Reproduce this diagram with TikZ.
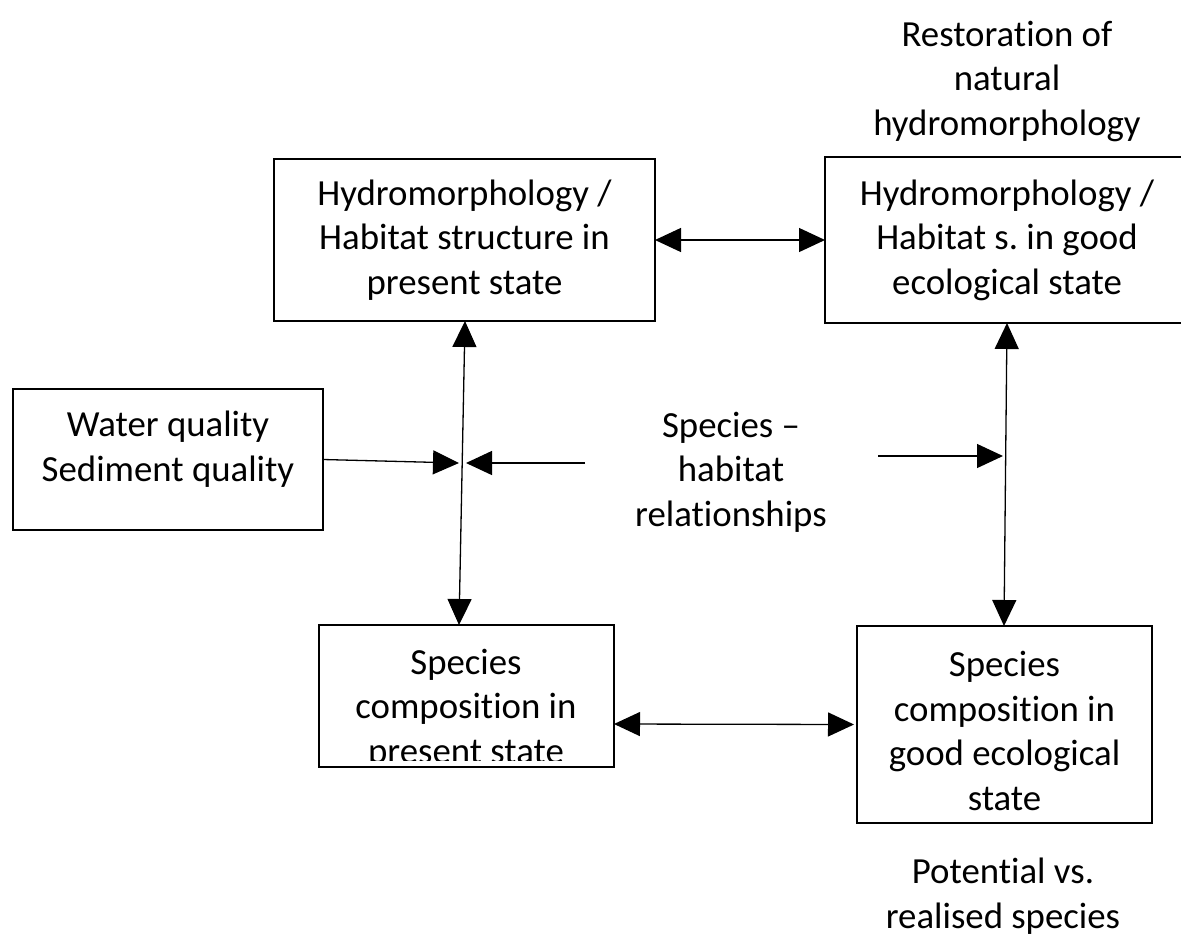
\documentclass[tikz,border=0pt]{standalone}
\usepackage{fontspec}
\setmainfont{Carlito}[Ligatures={NoCommon,NoContextual},RawFeature={-clig;-dlig}]
\usetikzlibrary{arrows.meta}
\begin{document}
\frenchspacing
\begin{tikzpicture}[x=1pt,y=-1pt,
  every node/.style={font=\fontsize{36.8}{44.5}\selectfont, inner sep=0pt, outer sep=0pt},
  box/.style={draw, line width=1.8pt, rectangle},
  txt/.style={align=center},
  conn/.style={line width=1.3pt, {Triangle[length=26pt,width=24pt]}-{Triangle[length=26pt,width=24pt]}},
  oneway/.style={line width=1.3pt, -{Triangle[length=26pt,width=24pt]}}]
\useasboundingbox (0,0) rectangle (1181,935);
% boxes
\node[box, txt, minimum width=381, minimum height=162] (hp) at (464.5,240)
  {Hydromorphology /\\Habitat structure in\\present state};
\node[box, txt, minimum width=364, minimum height=166] (hg) at (1007,240)
  {Hydromorphology /\\Habitat s. in good\\ecological state};
\node[box, minimum width=310, minimum height=141] (wq) at (168,459.5) {};
\node[txt] (wqtext) at (168,449) {Water quality\\Sediment quality};
\node[box, minimum width=295, minimum height=142] (sp) at (466.5,696) {};
\begin{scope}
  \clip ([yshift=7pt]sp.south west) rectangle (sp.north east);
  \node[txt] (sptext) at (466,709) {Species\\composition in\\present state};
\end{scope}
\node[box, minimum width=295, minimum height=197] (sg) at (1004.5,724.5) {};
\node[txt] (sgtext) at (1004.5,731) {Species\\composition in\\good ecological\\state};
% free texts
\node[txt] (rest) at (1007,81) {Restoration of\\natural\\hydromorphology};
\node[txt] (shr) at (731,472) {Species –\\habitat\\relationships};
\node[txt] (pot) at (1003,896) {Potential vs.\\realised species};
% connector end points
\coordinate (wqtip) at (459,463);
\coordinate (shtipL) at (466,463);
\coordinate (shsrcL) at (585,463);
\coordinate (shsrcR) at (878,456);
\coordinate (shtipR) at (1003,456);
% connectors
\draw[conn] (hp.east) -- (hg.west);
\draw[conn] ([xshift=0.5pt]hp.south) -- ([xshift=-7.5pt]sp.north);
\draw[conn] (hg.south) -- ([xshift=-0.5pt]sg.north);
\draw[conn] ([yshift=-28pt]sp.east) -- ([xshift=-3pt]sg.west);
\draw[oneway] (wq.east) -- (wqtip);
\draw[oneway] (shsrcL) -- (shtipL);
\draw[oneway] (shsrcR) -- (shtipR);
\end{tikzpicture}
\end{document}
